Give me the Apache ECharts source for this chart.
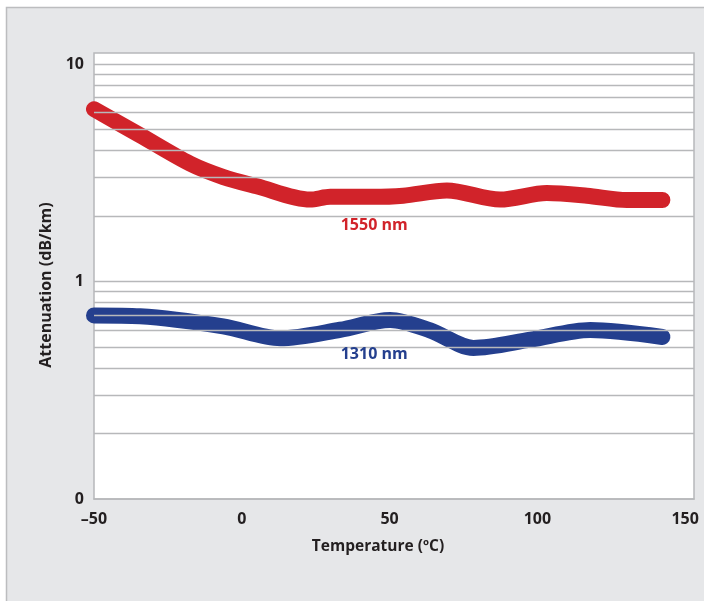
<!DOCTYPE html>
<html>
<head>
<meta charset="utf-8">
<script src="https://cdn.jsdelivr.net/npm/echarts@6/dist/echarts.min.js"></script>
<style>
html,body{margin:0;padding:0;background:#fff;}
#c{width:704px;height:601px;}
</style>
</head>
<body>
<div id="c"></div>
<script>
// Temperature (°C) and attenuation (dB/km)
const temp1550 = [-50, -34.4, -17.5, -6.2, 5.1, 23.1, 29.9, 44.4, 54.6, 69.4, 87.4, 103.2, 116.8, 130.3, 142.3];
const att1550  = [6.2, 4.7, 3.48, 3.02, 2.74, 2.38, 2.45, 2.45, 2.48, 2.62, 2.38, 2.55, 2.48, 2.37, 2.37];
const temp1310 = [-50, -34.4, -6.3, 13.0, 33.3, 50.2, 63.7, 78.4, 97.6, 117.9, 142.3];
const att1310  = [0.698, 0.692, 0.622, 0.548, 0.600, 0.665, 0.596, 0.495, 0.540, 0.598, 0.556];
const xTicks = [-50, 0, 50, 100, 150];
const yTickLabels = {'0.1': '0', '1': '1', '10': '10'};
const gridValues = [0.2,0.3,0.4,0.5,0.6,0.7,0.8,0.9,1,2,3,4,5,6,7,8,9,10];
const seriesNames = ['1550 nm', '1310 nm'];
const labelPos1550 = [44.8, 1.81];
const labelPos1310 = [44.8, 0.464];

const RED = '#d1232a', BLUE = '#243f8e', TXT = '#231f20', GRID = '#b7b8ba';
const FONT = 'Open Sans';

function pairs(xs, ys){ return xs.map((x,i)=>[x, ys[i]]); }

const chart = echarts.init(document.getElementById('c'), null, {renderer:'canvas'});
chart.setOption({
  animation: false,
  backgroundColor: '#fff',
  graphic: [{
    type: 'rect', z: -10, silent: true,
    shape: {x: 6.5, y: 7.5, width: 760, height: 660},
    style: {fill: '#e6e7e9', stroke: '#bcbdbf', lineWidth: 1.5}
  }],
  grid: {left: 94, top: 53, width: 600, height: 446, show: true,
         backgroundColor: '#fff', borderColor: GRID, borderWidth: 1.5},
  xAxis: {
    type: 'value', min: -50, max: 153, interval: 50,
    splitLine: {show: false}, axisTick: {show: false},
    axisLine: {show: true, onZero: false, lineStyle: {color: GRID, width: 1.5}},
    axisLabel: {
      color: TXT, fontFamily: FONT, fontWeight: 'bold', fontSize: 16, margin: 12,
      showMaxLabel: false,
      formatter: v => xTicks.includes(v) ? (v < 0 ? '\u2013' + Math.abs(v) : String(v)) : ''
    },
    name: 'Temperature (\u00baC)', nameLocation: 'middle', nameGap: 40,
    nameTextStyle: {color: TXT, fontFamily: FONT, fontWeight: 'bold', fontSize: 15.5, padding: [0, 32, 0, 0]}
  },
  yAxis: {
    type: 'log', logBase: 10, min: 0.1, max: 11.236,
    splitLine: {show: false}, axisTick: {show: false},
    axisLine: {show: false, onZero: false},
    axisLabel: {
      color: TXT, fontFamily: FONT, fontWeight: 'bold', fontSize: 16, margin: 10,
      showMaxLabel: false,
      formatter: v => {
        for (const k in yTickLabels) { if (Math.abs(v - Number(k)) < 1e-6 * Number(k)) return yTickLabels[k]; }
        return '';
      }
    },
    name: 'Attenuation (dB/km)', nameLocation: 'middle', nameGap: 35, nameRotate: 90,
    nameTextStyle: {color: TXT, fontFamily: FONT, fontWeight: 'bold', fontSize: 16, padding: [0, 18, 0, 0]}
  },
  series: [
    {
      type: 'line', data: [], z: 1, silent: true,
      markLine: {
        silent: true, symbol: 'none', label: {show: false},
        lineStyle: {color: GRID, width: 1.3, type: 'solid'},
        emphasis: {disabled: true},
        data: gridValues.map(v => ({yAxis: v}))
      }
    },
    {
      name: seriesNames[0], type: 'line', z: 3, smooth: 0.3, showSymbol: false,
      data: pairs(temp1550, att1550),
      lineStyle: {color: RED, width: 16, cap: 'round', join: 'round'},
      markPoint: {
        symbol: 'circle', symbolSize: 0,
        label: {show: true, formatter: seriesNames[0], color: RED, fontFamily: FONT, fontWeight: 'bold', fontSize: 16},
        data: [{coord: labelPos1550}]
      }
    },
    {
      name: seriesNames[1], type: 'line', z: 3, smooth: 0.3, showSymbol: false,
      data: pairs(temp1310, att1310),
      lineStyle: {color: BLUE, width: 16, cap: 'round', join: 'round'},
      markPoint: {
        symbol: 'circle', symbolSize: 0,
        label: {show: true, formatter: seriesNames[1], color: BLUE, fontFamily: FONT, fontWeight: 'bold', fontSize: 16},
        data: [{coord: labelPos1310}]
      }
    }
  ]
});
</script>
</body>
</html>
